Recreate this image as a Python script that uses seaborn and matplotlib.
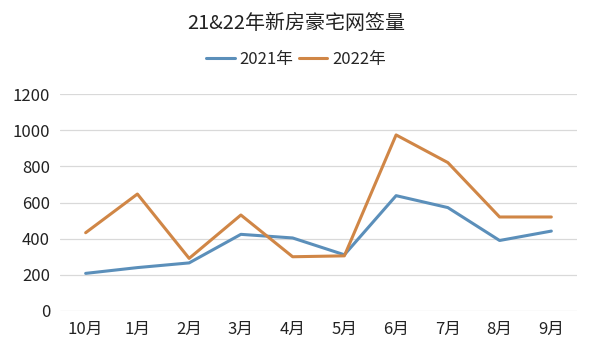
import matplotlib.pyplot as plt
import seaborn as sns
import pandas as pd

months = ['10月', '1月', '2月', '3月', '4月', '5月', '6月', '7月', '8月', '9月']
sales_2021 = [208, 240, 266, 424, 404, 311, 638, 572, 390, 442]
sales_2022 = [433, 647, 291, 531, 300, 305, 974, 821, 520, 520]
series_names = ['2021年', '2022年']

df = pd.DataFrame({
    'month': months * 2,
    'value': sales_2021 + sales_2022,
    'year': [series_names[0]] * len(months) + [series_names[1]] * len(months),
})
df['pos'] = list(range(len(months))) * 2

sns.set_style('white')
plt.rcParams['font.family'] = ['Noto Sans CJK SC', 'DejaVu Sans']

fig = plt.figure(figsize=(5.92, 3.55), dpi=100)
ax = fig.add_axes([0.101, 0.124, 0.874, 0.611])

palette = {series_names[0]: '#5b8fba', series_names[1]: '#d08646'}
sns.lineplot(data=df, x='pos', y='value', hue='year', palette=palette,
             linewidth=2.2, ax=ax, legend=True)

ax.set_xlim(-0.5, len(months) - 0.5)
ax.set_ylim(0, 1200)
ax.set_yticks(range(0, 1201, 200))
ax.set_xticks(range(len(months)))
ax.set_xticklabels(months)
ax.tick_params(axis='both', length=0, labelsize=12, colors='#222222', pad=7)
ax.set_xlabel('')
ax.set_ylabel('')
ax.yaxis.grid(True, color='#d9d9d9', linewidth=0.9)
ax.set_axisbelow(True)
for s in ax.spines.values():
    s.set_visible(False)

handles, labels = ax.get_legend_handles_labels()
ax.legend(handles, labels, loc='center', bbox_to_anchor=(0.5, 0.832),
          bbox_transform=fig.transFigure, ncol=2, frameon=False,
          fontsize=12, handlelength=1.7, columnspacing=0.3, handletextpad=0.3)

fig.text(0.5, 0.935, '21&22年新房豪宅网签量', ha='center', va='center',
         fontsize=14.4, color='#222222')

fig.savefig('out.png', dpi=100)
